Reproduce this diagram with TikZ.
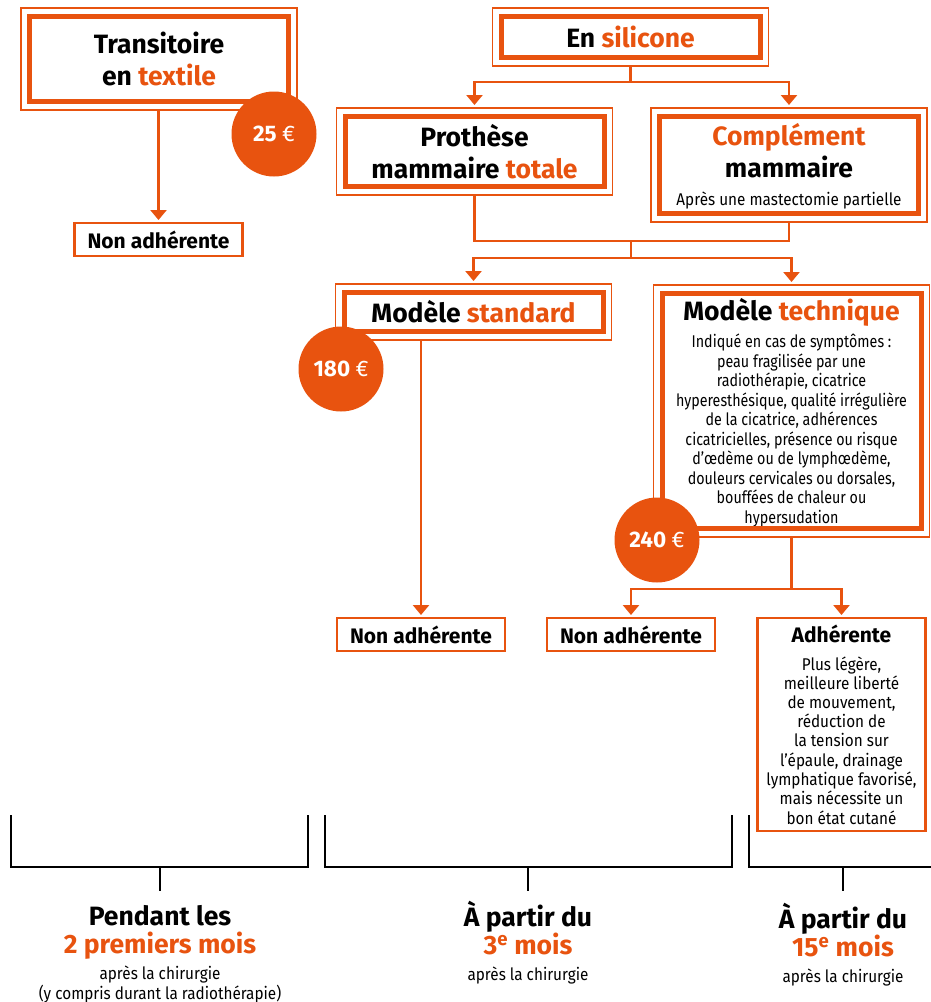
\documentclass[tikz,border=0pt]{standalone}
\usepackage{fontspec}
\setmainfont{Fira Sans}
\newfontfamily\headfont{Fira Sans}
\newfontfamily\smallfont[FakeStretch=0.9]{Fira Sans}
\newfontfamily\techfont[FakeStretch=0.84]{Fira Sans}
\usetikzlibrary{arrows.meta}
\definecolor{accent}{HTML}{E8530F}
\newcommand{\hl}[1]{\textcolor{accent}{#1}}
\newcommand{\notetext}[1]{{\smallfont\mdseries\fontsize{17}{19}\selectfont\begin{tabular}[t]{@{}c@{}}#1\end{tabular}}}
\newcommand{\techtext}[1]{{\techfont\mdseries\fontsize{17}{19.5}\selectfont\begin{tabular}[t]{@{}c@{}}#1\end{tabular}}}

\begin{document}
\begin{tikzpicture}[x=1pt, y=-1pt,
    every node/.style={font=\headfont\bfseries\fontsize{26.5}{32}\selectfont, align=center, inner sep=0pt, outer sep=0pt},
    bigbox/.style={draw=accent, line width=1.5pt, minimum width=276pt},
    smallbox/.style={draw=accent, line width=2.5pt, minimum width=168pt, minimum height=33pt, font=\headfont\bfseries\fontsize{21}{24}\selectfont},
    price/.style={circle, fill=accent, minimum size=85pt, text=white, font=\headfont\bfseries\fontsize{22.5}{24}\selectfont},
    period/.style={anchor=north, font=\headfont\bfseries\fontsize{26.5}{28}\selectfont},
    link/.style={accent, line width=2.5pt},
    arr/.style={link, -{Triangle[width=16pt,length=10pt]}, shorten >=3pt},
    bracket/.style={black, line width=2.5pt}]
    \useasboundingbox[fill=white] (0,0) rectangle (931,1002);

    % Textile branch
    \node[bigbox, minimum height=102pt] (trans) at (159,59) {Transitoire\\en \hl{textile}};
    \node[smallbox] (na1) at (158.5,239.5) {Non adhérente};

    % Silicone branch
    \node[bigbox, minimum height=58pt] (silicone) at (630.5,37) {\rule{0pt}{22pt}En \hl{silicone}};
    \node[bigbox, minimum height=87pt] (prothese) at (474.5,151.5) {Prothèse\\mammaire \hl{totale}};
    \node[bigbox, minimum height=114pt] (complement) at (789,165) {\rule{0pt}{26pt}\hl{Complément}\\mammaire\\[-4pt]\notetext{Après une mastectomie partielle}};
    \node[bigbox, minimum height=56pt] (standard) at (473.5,312) {Modèle \hl{standard}};
    \node[bigbox, minimum height=252pt] (technique) at (791.5,411) {\rule{0pt}{28pt}Modèle \hl{technique}\\[-5pt]\techtext{Indiqué en cas de symptômes~:\\peau fragilisée par une\\radiothérapie, cicatrice\\hyperesthésique, qualité irrégulière\\de la cicatrice, adhérences\\cicatricielles, présence ou risque\\d’œdème ou de lymphœdème,\\douleurs cervicales ou dorsales,\\bouffées de chaleur ou\\hypersudation}};
    \node[smallbox] (na2) at (421,634.5) {Non adhérente};
    \node[smallbox] (na3) at (631,634.5) {Non adhérente};
    \node[smallbox, minimum height=213pt] (adh) at (841.5,724.5) {\rule{0pt}{23pt}Adhérente\\[4pt]\notetext{Plus légère,\\meilleure liberté\\de mouvement,\\réduction de\\la tension sur\\l’épaule, drainage\\lymphatique favorisé,\\mais nécessite un\\bon état cutané}};

    % inner thick frames
    \foreach \n in {trans,silicone,prothese,complement,standard,technique}
    \draw[accent, line width=5pt] ([shift={(8.5pt,-8.5pt)}]\n.north west) rectangle ([shift={(-8.5pt,8.5pt)}]\n.south east);

    % connectors
    \draw[arr] (na1.north |- trans.south) -- (na1.north);
    \coordinate (s1) at (silicone.south |- 0,82);
    \draw[link] (silicone.south) -- (s1);
    \draw[arr] (s1) -| (prothese.north);
    \draw[arr] (s1) -| (complement.north);
    \coordinate (j1) at (631,241);
    \coordinate (j2) at (631,258);
    \draw[link] (prothese.south) |- (j1) -| (complement.south);
    \draw[link] (j1) -- (j2);
    \draw[arr] (j2) -| (standard.north);
    \draw[arr] (j2) -| (technique.north);
    \draw[arr] (na2.north |- standard.south) -- (na2.north);
    \coordinate (j3) at (technique.south |- 0,589);
    \draw[link] (technique.south) -- (j3);
    \draw[arr] (j3) -| (na3.north);
    \draw[arr] (j3) -| (adh.north);

    % prices
    \node[price] (p25) at (274,134) {25 {\mdseries €}};
    \node[price] (p180) at (341,369) {180 {\mdseries €}};
    \node[price] (p240) at (657,540) {240 {\mdseries €}};

    % time brackets
    \foreach \a/\b/\m in {11/308/160, 325/732/528}{
        \draw[bracket] (\a,815) |- (\b,867) -- (\b,815);
        \draw[bracket] (\m,867) -- (\m,891);
    }
    \draw[bracket] (749,815) |- (931,867);
    \draw[bracket] (843,867) -- (843,891);
    \node[period] (when1) at (160,905) {Pendant les\\\hl{2 premiers mois}\\[-2pt]\notetext{après la chirurgie\\(y compris durant la radiothérapie)}};
    \node[period] (when2) at (528,901) {À partir du\\\hl{3\textsuperscript{e} mois}\\[-2pt]\notetext{après la chirurgie}};
    \node[period] (when3) at (843,903) {À partir du\\\hl{15\textsuperscript{e} mois}\\[-2pt]\notetext{après la chirurgie}};
\end{tikzpicture}
\end{document}
